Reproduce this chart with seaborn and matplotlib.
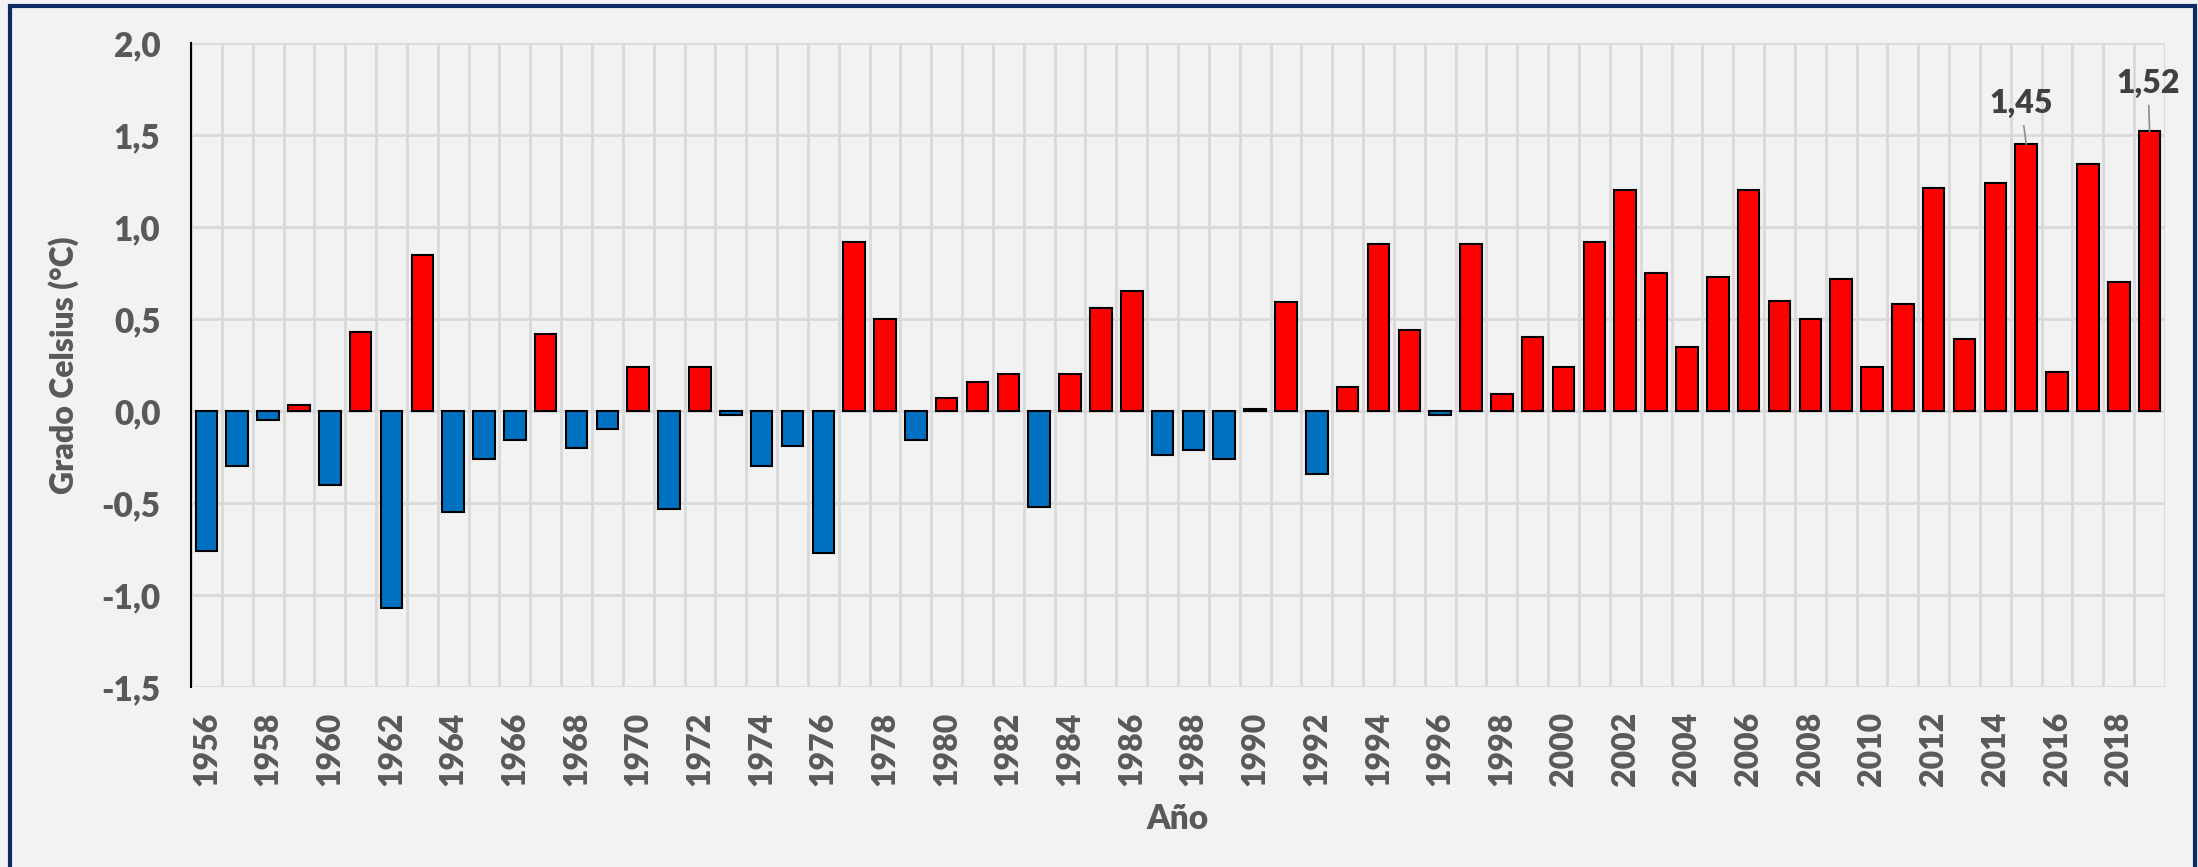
import matplotlib
matplotlib.use("Agg")
import matplotlib.pyplot as plt
from matplotlib.patches import Rectangle
from matplotlib.ticker import MultipleLocator
import numpy as np
import pandas as pd
import seaborn as sns

# values
years = list(range(1956, 2020))
anomalies = [
    -0.76, -0.30, -0.05, 0.03, -0.40, 0.43, -1.07, 0.85, -0.55, -0.26,
    -0.16, 0.42, -0.20, -0.10, 0.24, -0.53, 0.24, -0.02, -0.30, -0.19,
    -0.77, 0.92, 0.50, -0.16, 0.07, 0.16, 0.20, -0.52, 0.20, 0.56,
    0.65, -0.24, -0.21, -0.26, 0.01, 0.59, -0.34, 0.13, 0.91, 0.44,
    -0.02, 0.91, 0.09, 0.40, 0.24, 0.92, 1.20, 0.75, 0.35, 0.73,
    1.20, 0.60, 0.50, 0.72, 0.24, 0.58, 1.21, 0.39, 1.24, 1.45,
    0.21, 1.34, 0.70, 1.52,
]
y_ticks = [-1.5, -1.0, -0.5, 0.0, 0.5, 1.0, 1.5, 2.0]
y_tick_labels = ["-1,5", "-1,0", "-0,5", "0,0", "0,5", "1,0", "1,5", "2,0"]
highlight_years = [2015, 2019]
highlight_labels = ["1,45", "1,52"]

BG = "#F2F2F2"
GRID = "#D9D9D9"
TXT = "#595959"
W = "heavy"

sns.set_style("white")
plt.rcParams["font.family"] = ["Lato", "DejaVu Sans"]

df = pd.DataFrame({"year": years, "value": anomalies})
df["sign"] = np.where(df["value"] >= 0, "pos", "neg")

fig = plt.figure(figsize=(21.98, 8.67), dpi=100, facecolor=BG)
ax = fig.add_axes([191 / 2198, 1 - 687 / 867, (2165 - 191) / 2198, (687 - 43) / 867])
ax.set_facecolor(BG)

sns.barplot(data=df, x="year", y="value", hue="sign",
            palette={"pos": "#FF0000", "neg": "#0070C0"}, saturation=1,
            dodge=False, width=0.7, edgecolor="black", linewidth=1.5,
            legend=False, ax=ax)

n = len(years)
ax.set_xlim(-0.5, n - 0.5)
ax.set_ylim(-1.5, 2.0)

# x: label every other year, grid on category boundaries
ax.set_xticks(range(0, n, 2))
ax.set_xticklabels([str(y) for y in years[::2]], rotation=90,
                   fontsize=23, fontweight=W, color=TXT)
ax.set_xticks(np.arange(-0.5, n, 1), minor=True)
ax.tick_params(axis="x", which="both", length=0, pad=18)

ax.set_yticks(y_ticks)
ax.set_yticklabels(y_tick_labels, fontsize=24, fontweight=W, color=TXT)
ax.yaxis.set_minor_locator(MultipleLocator(0.1))
ax.tick_params(axis="y", which="both", direction="in", length=9, width=1.5,
               color="black", pad=22)

ax.grid(axis="x", which="minor", color=GRID, linewidth=2)
ax.grid(axis="y", which="major", color=GRID, linewidth=2)
ax.set_axisbelow(True)

for side in ["top", "right", "bottom"]:
    ax.spines[side].set_visible(False)
ax.spines["left"].set_color("black")
ax.spines["left"].set_linewidth(1.5)

ax.set_xlabel("Año", fontsize=24, fontweight=W, color=TXT, labelpad=12)
ax.set_ylabel("Grado Celsius (°C)", fontsize=23, fontweight=W, color=TXT, labelpad=16)

# labels for the two warmest years
offsets = [(-0.17, 0.22), (-0.05, 0.26)]
for yr, lab, (dx, dy) in zip(highlight_years, highlight_labels, offsets):
    i = years.index(yr)
    v = anomalies[i]
    ax.annotate(lab, xy=(i, v), xytext=(i + dx, v + dy),
                ha="center", va="center", fontsize=23, fontweight=W,
                color="#404040", annotation_clip=False,
                arrowprops=dict(arrowstyle="-", color="#8C8C8C", lw=1.2,
                                shrinkA=3, shrinkB=0))

# dark blue frame around the chart
fig.patches.append(Rectangle((10 / 2198, -0.1), (2195 - 10) / 2198, 1.1 - 6 / 867,
                             transform=fig.transFigure, fill=False,
                             edgecolor="#0B2A66", linewidth=3, clip_on=False))

fig.savefig("out.png", dpi=100, facecolor=BG)
